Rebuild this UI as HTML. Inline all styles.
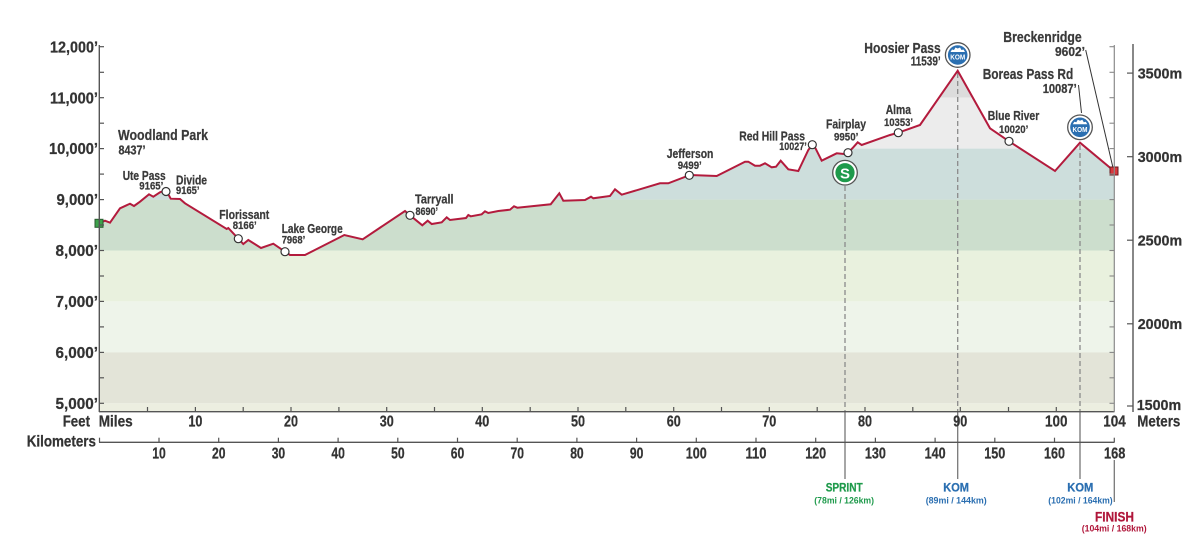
<!DOCTYPE html>
<html><head><meta charset="utf-8"><style>
html,body{margin:0;padding:0;background:#fff;}
svg{display:block;}
text{font-family:"Liberation Sans",sans-serif;font-weight:bold;}
.lb text, text.lb{stroke:currentColor;stroke-width:0.25;}
</style></head><body>
<svg width="1201" height="542" viewBox="0 0 1201 542" xmlns="http://www.w3.org/2000/svg">
<defs>
<clipPath id="prof"><polygon points="99,223.3 105,220.7 110,222.7 120,208.3 130,203.7 134,206 140,201.7 149,194.3 153.3,196.7 160,192.3 166,190 170.7,198.7 180,199 185,203.3 226.7,229 228.3,228 238.3,238.7 243.3,244 248.3,240 261,248 273.3,243.7 285,251.7 290,255 305,255 344.3,235 362.7,239.3 405,211 410,215.3 422.3,225.3 427.7,220.7 431.7,224 441.7,222.3 446.7,217.3 450,220 466,218 468.3,215 470.7,216.3 481.7,214.3 485,211.3 488.3,213 498.3,211 510,209.7 514,206.3 517.3,207.7 550.7,204.3 559.3,193.3 563.3,200.7 585,200 591,196.7 593.3,198.3 610,196 615,189.3 621.7,194.7 660,183.3 668.3,183.3 690,175 716.7,176 745,161.7 748.3,161.7 755,165.7 760,165.7 765,163.3 771.7,167.3 776,166.7 780.7,160.7 788.3,169.3 798.3,171 808.3,150 812.3,144.7 815,147.3 821.7,160.7 836.7,153.3 844,154 848,152.7 853.3,147.3 857.7,142.3 861.7,145 890,135 898.3,132.7 920,125 957.7,70.7 990,128.3 1009,141.3 1055,171 1080,142.7 1114,171 1114,412 99,412"/></clipPath>
</defs>

<!-- bands -->
<g clip-path="url(#prof)">
<rect x="99" y="40" width="1015" height="57.7" fill="#dcdcdc"/>
<rect x="99" y="97.7" width="1015" height="50.9" fill="#ececec"/>
<rect x="99" y="148.6" width="1015" height="51" fill="#cddedc"/>
<rect x="99" y="199.6" width="1015" height="50.9" fill="#ccdecd"/>
<rect x="99" y="250.5" width="1015" height="50.9" fill="#e9f1de"/>
<rect x="99" y="301.4" width="1015" height="51" fill="#eef4ea"/>
<rect x="99" y="352.4" width="1015" height="50.9" fill="#e3e4d8"/>
<rect x="99" y="403.3" width="1015" height="8.7" fill="#eceee0"/>
</g>

<!-- dashed marker lines -->
<g stroke="#8a8a8a" stroke-width="1.3" stroke-dasharray="5,3" fill="none">
<line x1="845" y1="186" x2="845" y2="411"/>
<line x1="957.7" y1="73" x2="957.7" y2="411"/>
<line x1="1080" y1="145" x2="1080" y2="411"/>
</g>
<g stroke="#777" stroke-width="1.3">
<line x1="845" y1="411" x2="845" y2="479"/>
<line x1="957.7" y1="411" x2="957.7" y2="479"/>
<line x1="1080" y1="411" x2="1080" y2="479"/>
<line x1="1114.3" y1="460" x2="1114.3" y2="502"/>
</g>

<!-- profile line -->
<polyline fill="none" stroke="#b31b3d" stroke-width="2" stroke-linejoin="miter" points="99,223.3 105,220.7 110,222.7 120,208.3 130,203.7 134,206 140,201.7 149,194.3 153.3,196.7 160,192.3 166,190 170.7,198.7 180,199 185,203.3 226.7,229 228.3,228 238.3,238.7 243.3,244 248.3,240 261,248 273.3,243.7 285,251.7 290,255 305,255 344.3,235 362.7,239.3 405,211 410,215.3 422.3,225.3 427.7,220.7 431.7,224 441.7,222.3 446.7,217.3 450,220 466,218 468.3,215 470.7,216.3 481.7,214.3 485,211.3 488.3,213 498.3,211 510,209.7 514,206.3 517.3,207.7 550.7,204.3 559.3,193.3 563.3,200.7 585,200 591,196.7 593.3,198.3 610,196 615,189.3 621.7,194.7 660,183.3 668.3,183.3 690,175 716.7,176 745,161.7 748.3,161.7 755,165.7 760,165.7 765,163.3 771.7,167.3 776,166.7 780.7,160.7 788.3,169.3 798.3,171 808.3,150 812.3,144.7 815,147.3 821.7,160.7 836.7,153.3 844,154 848,152.7 853.3,147.3 857.7,142.3 861.7,145 890,135 898.3,132.7 920,125 957.7,70.7 990,128.3 1009,141.3 1055,171 1080,142.7 1114,171"/>

<!-- waypoint circles -->
<g fill="#fff" stroke="#333" stroke-width="1.2">
<circle cx="166" cy="191.5" r="4"/>
<circle cx="238.3" cy="238.7" r="4"/>
<circle cx="285" cy="251.7" r="4"/>
<circle cx="410" cy="215.3" r="4"/>
<circle cx="689.3" cy="175.3" r="4"/>
<circle cx="812.3" cy="144.7" r="4"/>
<circle cx="848" cy="152.7" r="4"/>
<circle cx="898.3" cy="132.7" r="4"/>
<circle cx="1009" cy="141.3" r="4"/>
</g>
<rect x="95" y="219.3" width="8" height="8" fill="#3da34b" stroke="#2a5a30" stroke-width="1"/>
<rect x="1110" y="167" width="8" height="8" fill="#d8373c" stroke="#6a1a1e" stroke-width="1"/>

<!-- leader lines -->
<g stroke="#333" stroke-width="1" fill="none">
<line x1="1085.7" y1="50" x2="1112.7" y2="166.5"/>
<line x1="1078.5" y1="85" x2="1081.5" y2="113"/>
</g>

<!-- sprint icon -->
<circle cx="845" cy="172.7" r="12.3" fill="#fff" stroke="#555" stroke-width="1.3"/>
<circle cx="845" cy="172.7" r="9.6" fill="#1e9a4b"/>
<text x="845" y="178.5" font-size="15" fill="#fff" text-anchor="middle">S</text>

<!-- KOM icons -->
<g>
<circle cx="957.7" cy="55" r="12.3" fill="#fff" stroke="#555" stroke-width="1.3"/>
<circle cx="957.7" cy="55" r="9.8" fill="#2b6fb1"/>
<path d="M950.5,52 L952,49.5 L954,50 L955.5,47.5 L957.7,48.5 L960,47.5 L961.5,50 L963.5,49.5 L965,52 Z" fill="#fff"/>
<text x="950.2" y="59.5" font-size="7" fill="#fff" textLength="15" lengthAdjust="spacingAndGlyphs">KOM</text>
</g>
<g>
<circle cx="1080" cy="127.3" r="12.3" fill="#fff" stroke="#555" stroke-width="1.3"/>
<circle cx="1080" cy="127.3" r="9.8" fill="#2b6fb1"/>
<path d="M1072.8,124.3 L1074.3,121.8 L1076.3,122.3 L1077.8,119.8 L1080,120.8 L1082.3,119.8 L1083.8,122.3 L1085.8,121.8 L1087.3,124.3 Z" fill="#fff"/>
<text x="1072.5" y="131.8" font-size="7" fill="#fff" textLength="15" lengthAdjust="spacingAndGlyphs">KOM</text>
</g>

<!-- axes -->
<g stroke="#555" stroke-width="1.4">
<line x1="99.3" y1="45" x2="99.3" y2="412"/>
<line x1="99" y1="411.7" x2="1114.5" y2="411.7"/>
<line x1="99" y1="442.3" x2="1114.5" y2="442.3"/>
<line x1="1133" y1="44" x2="1133" y2="412"/>
</g>
<line x1="1114.3" y1="45" x2="1114.3" y2="412" stroke="#8a8a8a" stroke-width="1.2"/>
<g stroke="#555" stroke-width="1.2">
<line x1="99" y1="403.3" x2="104" y2="403.3"/><line x1="99" y1="377.8" x2="104" y2="377.8"/>
<line x1="99" y1="352.4" x2="104" y2="352.4"/><line x1="99" y1="326.9" x2="104" y2="326.9"/>
<line x1="99" y1="301.4" x2="104" y2="301.4"/><line x1="99" y1="276" x2="104" y2="276"/>
<line x1="99" y1="250.5" x2="104" y2="250.5"/><line x1="99" y1="225" x2="104" y2="225"/>
<line x1="99" y1="199.6" x2="104" y2="199.6"/><line x1="99" y1="174.1" x2="104" y2="174.1"/>
<line x1="99" y1="148.6" x2="104" y2="148.6"/><line x1="99" y1="123.2" x2="104" y2="123.2"/>
<line x1="99" y1="97.7" x2="104" y2="97.7"/><line x1="99" y1="72.3" x2="104" y2="72.3"/>
<line x1="99" y1="46.7" x2="104" y2="46.7"/>
</g>
<g stroke="#888" stroke-width="1.1">
<line x1="1109.5" y1="403.3" x2="1114.3" y2="403.3"/><line x1="1109.5" y1="377.8" x2="1114.3" y2="377.8"/>
<line x1="1109.5" y1="352.4" x2="1114.3" y2="352.4"/><line x1="1109.5" y1="326.9" x2="1114.3" y2="326.9"/>
<line x1="1109.5" y1="301.4" x2="1114.3" y2="301.4"/><line x1="1109.5" y1="276" x2="1114.3" y2="276"/>
<line x1="1109.5" y1="250.5" x2="1114.3" y2="250.5"/><line x1="1109.5" y1="225" x2="1114.3" y2="225"/>
<line x1="1109.5" y1="199.6" x2="1114.3" y2="199.6"/><line x1="1109.5" y1="174.1" x2="1114.3" y2="174.1"/>
<line x1="1109.5" y1="148.6" x2="1114.3" y2="148.6"/><line x1="1109.5" y1="123.2" x2="1114.3" y2="123.2"/>
<line x1="1109.5" y1="97.7" x2="1114.3" y2="97.7"/><line x1="1109.5" y1="72.3" x2="1114.3" y2="72.3"/>
<line x1="1109.5" y1="46.7" x2="1114.3" y2="46.7"/>
</g>
<g stroke="#555" stroke-width="1.2">
<line x1="1127" y1="73.1" x2="1133" y2="73.1"/>
<line x1="1127" y1="156.7" x2="1133" y2="156.7"/>
<line x1="1127" y1="240.2" x2="1133" y2="240.2"/>
<line x1="1127" y1="323.8" x2="1133" y2="323.8"/>
<line x1="1127" y1="406" x2="1133" y2="406"/>
<line x1="147.5" y1="407" x2="147.5" y2="411.7"/><line x1="195.4" y1="407" x2="195.4" y2="411.7"/>
<line x1="243.2" y1="407" x2="243.2" y2="411.7"/><line x1="291" y1="407" x2="291" y2="411.7"/>
<line x1="338.9" y1="407" x2="338.9" y2="411.7"/><line x1="386.7" y1="407" x2="386.7" y2="411.7"/>
<line x1="434.5" y1="407" x2="434.5" y2="411.7"/><line x1="482.3" y1="407" x2="482.3" y2="411.7"/>
<line x1="530.2" y1="407" x2="530.2" y2="411.7"/><line x1="578" y1="407" x2="578" y2="411.7"/>
<line x1="625.8" y1="407" x2="625.8" y2="411.7"/><line x1="673.7" y1="407" x2="673.7" y2="411.7"/>
<line x1="721.5" y1="407" x2="721.5" y2="411.7"/><line x1="769.3" y1="407" x2="769.3" y2="411.7"/>
<line x1="817.2" y1="407" x2="817.2" y2="411.7"/><line x1="865" y1="407" x2="865" y2="411.7"/>
<line x1="912.8" y1="407" x2="912.8" y2="411.7"/><line x1="960.3" y1="407" x2="960.3" y2="411.7"/>
<line x1="1008.5" y1="407" x2="1008.5" y2="411.7"/><line x1="1056.3" y1="407" x2="1056.3" y2="411.7"/>
<line x1="99.5" y1="437.7" x2="99.5" y2="442.3"/>
<line x1="159" y1="437.7" x2="159" y2="442.3"/><line x1="218.7" y1="437.7" x2="218.7" y2="442.3"/>
<line x1="278.4" y1="437.7" x2="278.4" y2="442.3"/><line x1="338.1" y1="437.7" x2="338.1" y2="442.3"/>
<line x1="397.8" y1="437.7" x2="397.8" y2="442.3"/><line x1="457.5" y1="437.7" x2="457.5" y2="442.3"/>
<line x1="517.2" y1="437.7" x2="517.2" y2="442.3"/><line x1="576.9" y1="437.7" x2="576.9" y2="442.3"/>
<line x1="636.6" y1="437.7" x2="636.6" y2="442.3"/><line x1="696.3" y1="437.7" x2="696.3" y2="442.3"/>
<line x1="756" y1="437.7" x2="756" y2="442.3"/><line x1="815.7" y1="437.7" x2="815.7" y2="442.3"/>
<line x1="875.4" y1="437.7" x2="875.4" y2="442.3"/><line x1="935.1" y1="437.7" x2="935.1" y2="442.3"/>
<line x1="994.8" y1="437.7" x2="994.8" y2="442.3"/><line x1="1054.5" y1="437.7" x2="1054.5" y2="442.3"/>
<line x1="1114.3" y1="437.7" x2="1114.3" y2="442.3"/>
</g>

<!-- left axis labels -->
<g class="lb" fill="#333" color="#333" font-size="16">
<text x="50" y="52.3" textLength="48" lengthAdjust="spacingAndGlyphs">12,000’</text>
<text x="50" y="103.3" textLength="48" lengthAdjust="spacingAndGlyphs">11,000’</text>
<text x="49" y="154.2" textLength="49" lengthAdjust="spacingAndGlyphs">10,000’</text>
<text x="56.5" y="205.2" textLength="41.5" lengthAdjust="spacingAndGlyphs">9,000’</text>
<text x="55.5" y="256.1" textLength="42.5" lengthAdjust="spacingAndGlyphs">8,000’</text>
<text x="55.5" y="307" textLength="42.5" lengthAdjust="spacingAndGlyphs">7,000’</text>
<text x="55.5" y="358" textLength="42.5" lengthAdjust="spacingAndGlyphs">6,000’</text>
<text x="55.5" y="408.9" textLength="42.5" lengthAdjust="spacingAndGlyphs">5,000’</text>
<text x="62.7" y="426.7" textLength="27.3" lengthAdjust="spacingAndGlyphs">Feet</text>
<text x="98.7" y="426.7" textLength="34" lengthAdjust="spacingAndGlyphs">Miles</text>
<text x="26.7" y="446.7" textLength="69.3" lengthAdjust="spacingAndGlyphs">Kilometers</text>
<text x="1137.3" y="426.7" textLength="43" lengthAdjust="spacingAndGlyphs">Meters</text>
</g>
<g class="lb" fill="#333" color="#333" font-size="15">
<text x="1137.7" y="78.3" textLength="44.5" lengthAdjust="spacingAndGlyphs">3500m</text>
<text x="1137.7" y="161.9" textLength="44.5" lengthAdjust="spacingAndGlyphs">3000m</text>
<text x="1137.7" y="245.4" textLength="44.5" lengthAdjust="spacingAndGlyphs">2500m</text>
<text x="1137.7" y="329" textLength="44.5" lengthAdjust="spacingAndGlyphs">2000m</text>
<text x="1136.7" y="409.8" textLength="44.5" lengthAdjust="spacingAndGlyphs">1500m</text>
</g>
<g class="lb" fill="#333" color="#333" font-size="16">
<text x="188.4" y="426.7" textLength="14" lengthAdjust="spacingAndGlyphs">10</text>
<text x="284" y="426.7" textLength="14" lengthAdjust="spacingAndGlyphs">20</text>
<text x="379.7" y="426.7" textLength="14" lengthAdjust="spacingAndGlyphs">30</text>
<text x="475.3" y="426.7" textLength="14" lengthAdjust="spacingAndGlyphs">40</text>
<text x="571" y="426.7" textLength="14" lengthAdjust="spacingAndGlyphs">50</text>
<text x="666.7" y="426.7" textLength="14" lengthAdjust="spacingAndGlyphs">60</text>
<text x="762.3" y="426.7" textLength="14" lengthAdjust="spacingAndGlyphs">70</text>
<text x="858" y="426.7" textLength="14" lengthAdjust="spacingAndGlyphs">80</text>
<text x="953.3" y="426.7" textLength="14" lengthAdjust="spacingAndGlyphs">90</text>
<text x="1045" y="426.7" textLength="22.5" lengthAdjust="spacingAndGlyphs">100</text>
<text x="1103.3" y="426.7" textLength="22.5" lengthAdjust="spacingAndGlyphs">104</text>
</g>
<g class="lb" fill="#333" color="#333" font-size="15.5">
<text x="152.3" y="458.3" textLength="13.5" lengthAdjust="spacingAndGlyphs">10</text>
<text x="212" y="458.3" textLength="13.5" lengthAdjust="spacingAndGlyphs">20</text>
<text x="271.7" y="458.3" textLength="13.5" lengthAdjust="spacingAndGlyphs">30</text>
<text x="331.4" y="458.3" textLength="13.5" lengthAdjust="spacingAndGlyphs">40</text>
<text x="391.1" y="458.3" textLength="13.5" lengthAdjust="spacingAndGlyphs">50</text>
<text x="450.8" y="458.3" textLength="13.5" lengthAdjust="spacingAndGlyphs">60</text>
<text x="510.5" y="458.3" textLength="13.5" lengthAdjust="spacingAndGlyphs">70</text>
<text x="570.2" y="458.3" textLength="13.5" lengthAdjust="spacingAndGlyphs">80</text>
<text x="629.9" y="458.3" textLength="13.5" lengthAdjust="spacingAndGlyphs">90</text>
<text x="685.8" y="458.3" textLength="21" lengthAdjust="spacingAndGlyphs">100</text>
<text x="745.5" y="458.3" textLength="21" lengthAdjust="spacingAndGlyphs">110</text>
<text x="805.2" y="458.3" textLength="21" lengthAdjust="spacingAndGlyphs">120</text>
<text x="864.9" y="458.3" textLength="21" lengthAdjust="spacingAndGlyphs">130</text>
<text x="924.6" y="458.3" textLength="21" lengthAdjust="spacingAndGlyphs">140</text>
<text x="984.3" y="458.3" textLength="21" lengthAdjust="spacingAndGlyphs">150</text>
<text x="1044" y="458.3" textLength="21" lengthAdjust="spacingAndGlyphs">160</text>
<text x="1104" y="458.3" textLength="21.3" lengthAdjust="spacingAndGlyphs">168</text>
</g>

<!-- place labels -->
<g class="lb" fill="#3a3a3a" color="#3a3a3a">
<text x="118" y="140" font-size="15" textLength="90" lengthAdjust="spacingAndGlyphs">Woodland Park</text>
<text x="118.5" y="154.5" font-size="12.5" textLength="27" lengthAdjust="spacingAndGlyphs">8437’</text>
<text x="122.7" y="180" font-size="12.5" textLength="43" lengthAdjust="spacingAndGlyphs">Ute Pass</text>
<text x="139.3" y="189.5" font-size="11" textLength="24" lengthAdjust="spacingAndGlyphs">9165’</text>
<text x="176" y="184.5" font-size="12.5" textLength="31" lengthAdjust="spacingAndGlyphs">Divide</text>
<text x="176" y="194" font-size="11" textLength="23.5" lengthAdjust="spacingAndGlyphs">9165’</text>
<text x="219.3" y="219" font-size="12.5" textLength="50" lengthAdjust="spacingAndGlyphs">Florissant</text>
<text x="232.7" y="229" font-size="11" textLength="24" lengthAdjust="spacingAndGlyphs">8166’</text>
<text x="281.7" y="233" font-size="12.5" textLength="61" lengthAdjust="spacingAndGlyphs">Lake George</text>
<text x="281.7" y="243.3" font-size="11" textLength="23.5" lengthAdjust="spacingAndGlyphs">7968’</text>
<text x="415" y="203.3" font-size="12.5" textLength="38.5" lengthAdjust="spacingAndGlyphs">Tarryall</text>
<text x="415.5" y="215" font-size="11" textLength="22.5" lengthAdjust="spacingAndGlyphs">8690’</text>
<text x="666.7" y="158" font-size="12.5" textLength="46.7" lengthAdjust="spacingAndGlyphs">Jefferson</text>
<text x="677.7" y="169" font-size="11" textLength="24" lengthAdjust="spacingAndGlyphs">9499’</text>
<text x="739.3" y="140.5" font-size="12.5" textLength="65.7" lengthAdjust="spacingAndGlyphs">Red Hill Pass</text>
<text x="779.3" y="150" font-size="11" textLength="27.4" lengthAdjust="spacingAndGlyphs">10027’</text>
<text x="826" y="128.5" font-size="12.5" textLength="40" lengthAdjust="spacingAndGlyphs">Fairplay</text>
<text x="834" y="140.5" font-size="11" textLength="24.3" lengthAdjust="spacingAndGlyphs">9950’</text>
<text x="885.7" y="114" font-size="12.5" textLength="25.3" lengthAdjust="spacingAndGlyphs">Alma</text>
<text x="884" y="126" font-size="11" textLength="29" lengthAdjust="spacingAndGlyphs">10353’</text>
<text x="864.3" y="53" font-size="15" textLength="76.4" lengthAdjust="spacingAndGlyphs">Hoosier Pass</text>
<text x="910.7" y="65.5" font-size="12.5" textLength="30" lengthAdjust="spacingAndGlyphs">11539’</text>
<text x="987.7" y="120" font-size="12.5" textLength="51.6" lengthAdjust="spacingAndGlyphs">Blue River</text>
<text x="999" y="133" font-size="11" textLength="29.3" lengthAdjust="spacingAndGlyphs">10020’</text>
<text x="982.7" y="79" font-size="15" textLength="90.6" lengthAdjust="spacingAndGlyphs">Boreas Pass Rd</text>
<text x="1042.7" y="93" font-size="12.5" textLength="34" lengthAdjust="spacingAndGlyphs">10087’</text>
<text x="1003.3" y="42" font-size="15" textLength="78.4" lengthAdjust="spacingAndGlyphs">Breckenridge</text>
<text x="1055" y="56" font-size="12.5" textLength="30" lengthAdjust="spacingAndGlyphs">9602’</text>
</g>

<!-- bottom markers -->
<text class="lb" color="#1e9a4b" x="825.7" y="491.7" font-size="11.5" fill="#1e9a4b" textLength="37" lengthAdjust="spacingAndGlyphs">SPRINT</text>
<text x="814.3" y="503.3" font-size="9" fill="#1e9a4b" textLength="59.7" lengthAdjust="spacingAndGlyphs">(78mi / 126km)</text>
<text class="lb" color="#2b6fb1" x="943.3" y="491.7" font-size="11.5" fill="#2b6fb1" textLength="25.7" lengthAdjust="spacingAndGlyphs">KOM</text>
<text x="925.7" y="503.3" font-size="9" fill="#2b6fb1" textLength="61" lengthAdjust="spacingAndGlyphs">(89mi / 144km)</text>
<text class="lb" color="#2b6fb1" x="1067.3" y="491.7" font-size="11.5" fill="#2b6fb1" textLength="26" lengthAdjust="spacingAndGlyphs">KOM</text>
<text x="1048.3" y="503.3" font-size="9" fill="#2b6fb1" textLength="64.4" lengthAdjust="spacingAndGlyphs">(102mi / 164km)</text>
<text class="lb" color="#b0163a" x="1095" y="521.7" font-size="14" fill="#b0163a" textLength="39" lengthAdjust="spacingAndGlyphs">FINISH</text>
<text x="1081.7" y="531.5" font-size="9" fill="#b0163a" textLength="65" lengthAdjust="spacingAndGlyphs">(104mi / 168km)</text>
</svg>
</body></html>
